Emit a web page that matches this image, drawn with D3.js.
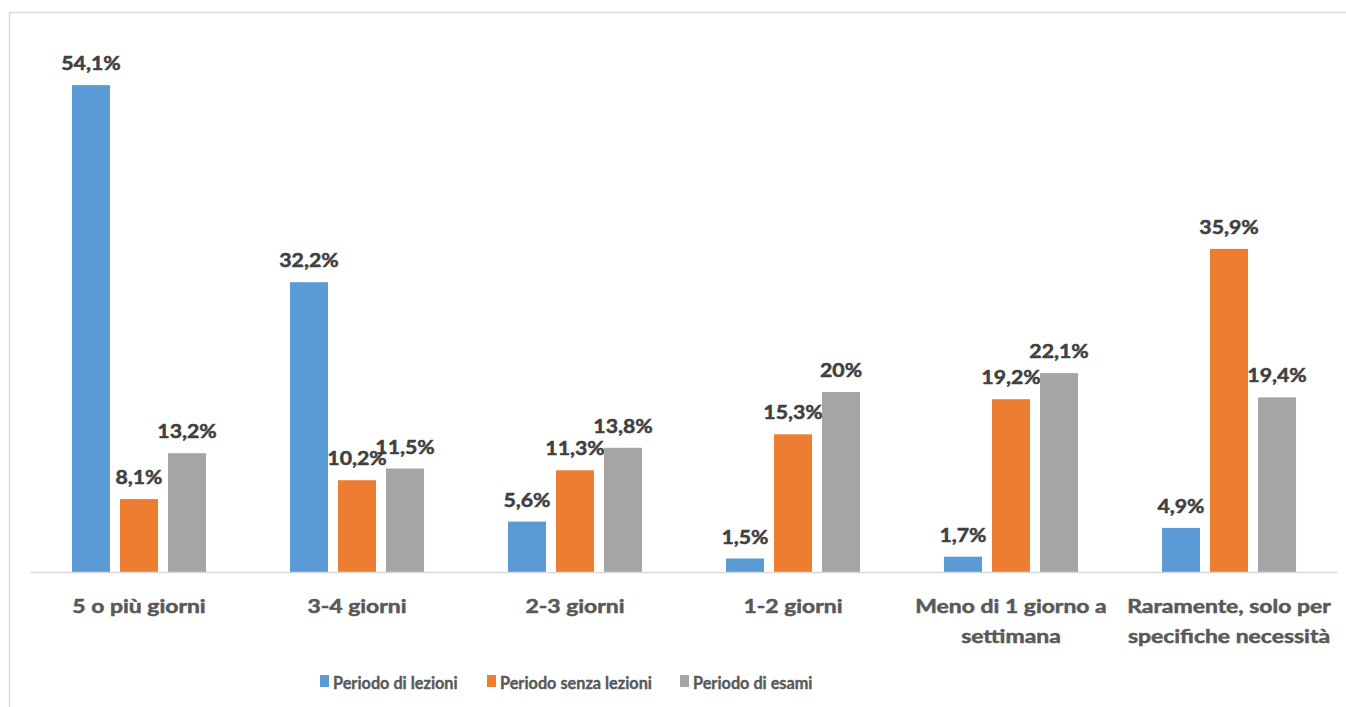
<!DOCTYPE html>
<html>
<head>
<meta charset="utf-8">
<script src="https://cdn.jsdelivr.net/npm/d3@7"></script>
<style>
  html, body { margin: 0; padding: 0; background: #fff; }
  svg { display: block; }
  text { font-family: Lato, "Open Sans", sans-serif; font-weight: 700; paint-order: stroke; stroke-linejoin: round; }
</style>
</head>
<body>
<svg id="chart" width="1346" height="707"></svg>
<script>
const categories = [
  ["5 o più giorni"],
  ["3-4 giorni"],
  ["2-3 giorni"],
  ["1-2 giorni"],
  ["Meno di 1 giorno a", "settimana"],
  ["Raramente, solo per", "specifiche necessità"]
];
const seriesNames = ["Periodo di lezioni", "Periodo senza lezioni", "Periodo di esami"];
const lezioni      = [54.1, 32.2, 5.6, 1.5, 1.7, 4.9];
const senzaLezioni = [8.1, 10.2, 11.3, 15.3, 19.2, 35.9];
const esami        = [13.2, 11.5, 13.8, 20, 22.1, 19.4];
const seriesColors = ["#5B9BD5", "#ED7D31", "#A5A5A5"];

const seriesValues = [lezioni, senzaLezioni, esami];
const fmt = v => String(v).replace(".", ",") + "%";

const svg = d3.select("#chart");
const W = 1346, H = 707;
const plot = { left: 30, right: 1338, top: 32, bottom: 572 };

// chart border (top and left visible)
svg.append("line").attr("x1", 9.5).attr("x2", W).attr("y1", 12.5).attr("y2", 12.5)
  .attr("stroke", "#d9d9d9").attr("stroke-width", 1.5);
svg.append("line").attr("x1", 9.5).attr("x2", 9.5).attr("y1", 12).attr("y2", H)
  .attr("stroke", "#d9d9d9").attr("stroke-width", 1.5);

const catKeys = categories.map(c => c.join(" "));
const x0 = d3.scaleBand().domain(catKeys).range([plot.left, plot.right]).paddingInner(0.385).paddingOuter(0.1925);
const x1 = d3.scaleBand().domain(seriesNames).range([0, x0.bandwidth()]).paddingInner(0.2083);
const y = d3.scaleLinear().domain([0, 60]).range([plot.bottom, plot.top]);

const groups = svg.append("g").selectAll("g")
  .data(catKeys).join("g")
  .attr("transform", d => `translate(${x0(d)},0)`);

groups.each(function(cat, ci) {
  const g = d3.select(this);
  seriesNames.forEach((s, si) => {
    const v = seriesValues[si][ci];
    g.append("rect")
      .attr("x", x1(s)).attr("width", x1.bandwidth())
      .attr("y", y(v)).attr("height", y(0) - y(v))
      .attr("fill", seriesColors[si]);
    g.append("text")
      .attr("transform", `translate(${x1(s) + x1.bandwidth() / 2},${y(v) - 15}) scale(1.12,1)`)
      .attr("text-anchor", "middle")
      .attr("font-size", 19)
      .attr("fill", "#404040")
      .attr("stroke", "#404040").attr("stroke-width", 0.5)
      .text(fmt(v));
  });
});

// baseline
svg.append("line").attr("x1", plot.left).attr("x2", plot.right)
  .attr("y1", plot.bottom + 0.5).attr("y2", plot.bottom + 0.5)
  .attr("stroke", "#d9d9d9").attr("stroke-width", 1.5);

// category labels
const xc = d3.scaleBand().domain(catKeys).range([plot.left, plot.right]);
categories.forEach((lines, i) => {
  const cx = xc(catKeys[i]) + xc.bandwidth() / 2;
  lines.forEach((l, li) => {
    svg.append("text")
      .attr("transform", `translate(${cx},${613 + li * 30}) scale(1.24,1)`)
      .attr("text-anchor", "middle")
      .attr("font-size", 18.5)
      .attr("fill", "#595959")
      .attr("stroke", "#595959").attr("stroke-width", 0.5)
      .text(l);
  });
});

// legend
const legendX = [320, 487, 680];
const legend = svg.append("g").selectAll("g").data(seriesNames).join("g")
  .attr("transform", (d, i) => `translate(${legendX[i]},0)`);
legend.append("rect").attr("x", 0).attr("y", 675).attr("width", 9).attr("height", 12)
  .attr("fill", (d, i) => seriesColors[i]);
legend.append("text")
  .attr("transform", "translate(13,689) scale(0.93,1)")
  .attr("font-size", 17.5).attr("fill", "#595959")
  .attr("stroke", "#595959").attr("stroke-width", 0.4)
  .text(d => d);
</script>
</body>
</html>
